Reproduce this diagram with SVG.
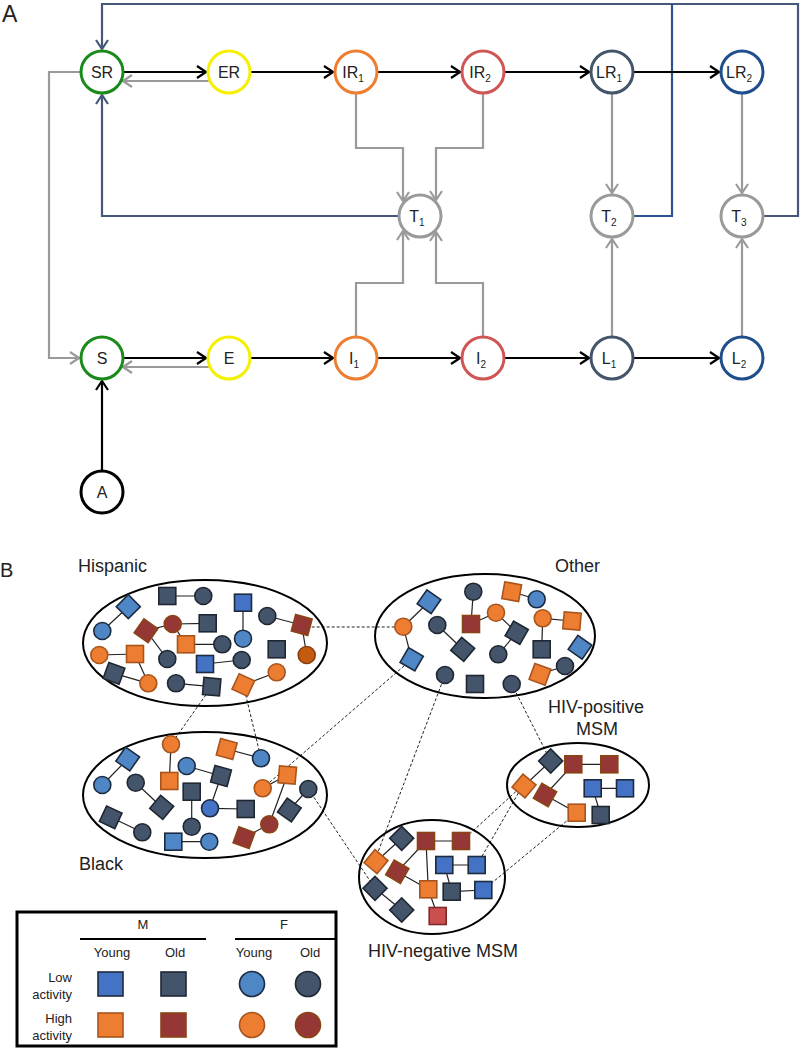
<svg xmlns="http://www.w3.org/2000/svg" width="800" height="1049" viewBox="0 0 800 1049">
<defs>
<style>
text{font-family:"Liberation Sans",Arial,sans-serif;fill:#222}
.lbl{font-size:16px;text-anchor:middle}
.sub{font-size:10px}
.nd{fill:#fff;stroke-width:3}
.blk{fill:none;stroke:#000;stroke-width:2.2}
.gry{fill:none;stroke:#9a9a9a;stroke-width:2.2}
.slt{fill:none;stroke:#46587a;stroke-width:2.2}
.blu{fill:none;stroke:#2a5595;stroke-width:2.2}
.ell{fill:none;stroke:#000;stroke-width:2}
.e{stroke:#222;stroke-width:1.2}
.d{stroke:#222;stroke-width:1;stroke-dasharray:3,2;fill:none}
.ym{fill:#4472c4;stroke:#1d2b40;stroke-width:1.6}
.yf{fill:#4f86c6;stroke:#1d2b40;stroke-width:1.6}
.om{fill:#44546a;stroke:#1f2733;stroke-width:1.6}
.yh{fill:#ed7d31;stroke:#a9541c;stroke-width:1.6}
.oh{fill:#953735;stroke:#8a4514;stroke-width:1.6}
.bo{fill:#c55a11;stroke:#8a3e0c;stroke-width:1.6}
.rs{fill:#c9504d;stroke:#7f2a28;stroke-width:1.6}
.cl{font-size:18px}
.lg{font-size:13px}
</style>
<marker id="ab" markerUnits="userSpaceOnUse" markerWidth="12" markerHeight="14" viewBox="0 0 12 14" refX="11" refY="7" orient="auto"><path d="M2,1 L11,7 L2,13" fill="none" stroke="#000" stroke-width="2.2"/></marker>
<marker id="ag" markerUnits="userSpaceOnUse" markerWidth="12" markerHeight="14" viewBox="0 0 12 14" refX="11" refY="7" orient="auto"><path d="M2,1 L11,7 L2,13" fill="none" stroke="#9a9a9a" stroke-width="2.2"/></marker>
<marker id="as" markerUnits="userSpaceOnUse" markerWidth="12" markerHeight="14" viewBox="0 0 12 14" refX="11" refY="7" orient="auto"><path d="M2,1 L11,7 L2,13" fill="none" stroke="#46587a" stroke-width="2.2"/></marker>
<rect id="sq" x="-8.5" y="-8.5" width="17" height="17"/>
</defs>
<rect width="800" height="1049" fill="#fff"/>

<text x="2" y="22" style="font-size:23px">A</text>
<text x="0" y="577" style="font-size:20px">B</text>

<!-- Part A connectors -->
<g id="connectorsA">
<path class="slt" d="M764,216 H798 V4 H102 V49" marker-end="url(#as)"/>
<path class="blu" d="M634,216 H672 V4"/>
<path class="slt" d="M398,216 H102 V95" marker-end="url(#as)"/>
<path class="blk" d="M124,72 H206" marker-end="url(#ab)"/>
<path class="blk" d="M251,72 H333" marker-end="url(#ab)"/>
<path class="blk" d="M378,72 H460" marker-end="url(#ab)"/>
<path class="blk" d="M505,72 H589" marker-end="url(#ab)"/>
<path class="blk" d="M634,72 H719" marker-end="url(#ab)"/>
<path class="blk" d="M124,358 H206" marker-end="url(#ab)"/>
<path class="blk" d="M251,358 H333" marker-end="url(#ab)"/>
<path class="blk" d="M378,358 H460" marker-end="url(#ab)"/>
<path class="blk" d="M505,358 H589" marker-end="url(#ab)"/>
<path class="blk" d="M634,358 H719" marker-end="url(#ab)"/>
<path class="blk" d="M102,470 V381" marker-end="url(#ab)"/>
<path class="gry" d="M209,81 H123" marker-end="url(#ag)"/>
<path class="gry" d="M209,367 H123" marker-end="url(#ag)"/>
<path class="gry" d="M80,72 H49 V358 H79" marker-end="url(#ag)"/>
<path class="gry" d="M356,94 V148 H403 V201" marker-end="url(#ag)"/>
<path class="gry" d="M483,94 V148 H436 V200" marker-end="url(#ag)"/>
<path class="gry" d="M356,337 V283 H403 V231" marker-end="url(#ag)"/>
<path class="gry" d="M483,337 V283 H436 V232" marker-end="url(#ag)"/>
<path class="gry" d="M612,94 V193" marker-end="url(#ag)"/>
<path class="gry" d="M612,337 V239" marker-end="url(#ag)"/>
<path class="gry" d="M742,94 V193" marker-end="url(#ag)"/>
<path class="gry" d="M742,337 V239" marker-end="url(#ag)"/>
</g>

<!-- Part A nodes -->
<g id="SR"><circle class="nd" cx="102" cy="72" r="21" stroke="#1a8a1a"/><text class="lbl" x="102" y="78">SR</text></g>
<g id="ER"><circle class="nd" cx="229" cy="72" r="21" stroke="#f5f000"/><text class="lbl" x="229" y="78">ER</text></g>
<g id="IR1"><circle class="nd" cx="356" cy="72" r="21" stroke="#ed7d31"/><text class="lbl" x="353" y="78">IR<tspan class="sub" dy="4">1</tspan></text></g>
<g id="IR2"><circle class="nd" cx="483" cy="72" r="21" stroke="#d05555"/><text class="lbl" x="480" y="78">IR<tspan class="sub" dy="4">2</tspan></text></g>
<g id="LR1"><circle class="nd" cx="612" cy="72" r="21" stroke="#44546a"/><text class="lbl" x="609" y="78">LR<tspan class="sub" dy="4">1</tspan></text></g>
<g id="LR2"><circle class="nd" cx="742" cy="72" r="21" stroke="#1f4e8c"/><text class="lbl" x="739" y="78">LR<tspan class="sub" dy="4">2</tspan></text></g>
<g id="T1"><circle class="nd" cx="420" cy="216" r="21" stroke="#9a9a9a"/><text class="lbl" x="417" y="222">T<tspan class="sub" dy="4">1</tspan></text></g>
<g id="T2"><circle class="nd" cx="612" cy="216" r="21" stroke="#9a9a9a"/><text class="lbl" x="609" y="222">T<tspan class="sub" dy="4">2</tspan></text></g>
<g id="T3"><circle class="nd" cx="742" cy="216" r="21" stroke="#9a9a9a"/><text class="lbl" x="739" y="222">T<tspan class="sub" dy="4">3</tspan></text></g>
<g id="S"><circle class="nd" cx="102" cy="358" r="21" stroke="#1a8a1a"/><text class="lbl" x="102" y="364">S</text></g>
<g id="E"><circle class="nd" cx="229" cy="358" r="21" stroke="#f5f000"/><text class="lbl" x="229" y="364">E</text></g>
<g id="I1"><circle class="nd" cx="356" cy="358" r="21" stroke="#ed7d31"/><text class="lbl" x="354" y="364">I<tspan class="sub" dy="4">1</tspan></text></g>
<g id="I2"><circle class="nd" cx="483" cy="358" r="21" stroke="#d05555"/><text class="lbl" x="481" y="364">I<tspan class="sub" dy="4">2</tspan></text></g>
<g id="L1"><circle class="nd" cx="612" cy="358" r="21" stroke="#44546a"/><text class="lbl" x="609" y="364">L<tspan class="sub" dy="4">1</tspan></text></g>
<g id="L2"><circle class="nd" cx="742" cy="358" r="21" stroke="#1f4e8c"/><text class="lbl" x="739" y="364">L<tspan class="sub" dy="4">2</tspan></text></g>
<g id="Anode"><circle class="nd" cx="102" cy="492" r="21" stroke="#000"/><text class="lbl" x="102" y="498">A</text></g>

<!-- Part B connectors -->
<g id="connectorsB">
<path class="d" d="M301.7,627 L403.3,627"/>
<path class="d" d="M211.7,686.7 L171,744.3"/>
<path class="d" d="M243.3,685 L261,758.3"/>
<path class="d" d="M411.7,659.3 L262.7,788.3"/>
<path class="d" d="M445,675 L378,852"/>
<path class="d" d="M511.7,684 L550.7,761"/>
<path class="d" d="M308.3,789 L375,888.3"/>
<path class="d" d="M462,841 L523,785"/>
<path class="d" d="M477,865 L523,785"/>
<path class="d" d="M483.3,890 L576.7,812.7"/>
<g class="e">
<line x1="128.3" y1="606.7" x2="102.3" y2="631"/>
<line x1="167.3" y1="596" x2="203.3" y2="596"/>
<line x1="243" y1="602.7" x2="243" y2="638.7"/>
<line x1="267.3" y1="616" x2="301.7" y2="625"/>
<line x1="301.7" y1="625" x2="306.7" y2="655"/>
<line x1="146" y1="630.7" x2="172.7" y2="624"/>
<line x1="172.7" y1="624" x2="207.7" y2="623.3"/>
<line x1="146" y1="630.7" x2="167.3" y2="659"/>
<line x1="172.7" y1="624" x2="186" y2="644.3"/>
<line x1="186" y1="644.3" x2="222.3" y2="644.3"/>
<line x1="99.3" y1="655" x2="135" y2="654"/>
<line x1="135" y1="654" x2="148.3" y2="683.3"/>
<line x1="114" y1="673.3" x2="148.3" y2="683.3"/>
<line x1="205" y1="664" x2="241.7" y2="660"/>
<line x1="176" y1="683.3" x2="211.7" y2="686.7"/>
<line x1="243.3" y1="685" x2="276.7" y2="672.3"/>
<line x1="473.3" y1="591.7" x2="471" y2="624"/>
<line x1="471" y1="624" x2="496" y2="612.7"/>
<line x1="511.7" y1="591.7" x2="536.7" y2="599.3"/>
<line x1="542.7" y1="618.3" x2="572" y2="621"/>
<line x1="496" y1="612.7" x2="516.7" y2="632.7"/>
<line x1="516.7" y1="632.7" x2="498.3" y2="654.3"/>
<line x1="541.7" y1="649.3" x2="542.7" y2="618.3"/>
<line x1="565" y1="666" x2="540" y2="674.3"/>
<line x1="429" y1="601.7" x2="403.3" y2="626.7"/>
<line x1="403.3" y1="626.7" x2="411.7" y2="659.3"/>
<line x1="437.3" y1="625" x2="462.7" y2="649.3"/>
<line x1="127.7" y1="759" x2="102.3" y2="785"/>
<line x1="135.7" y1="782.7" x2="161.7" y2="807.3"/>
<line x1="110.7" y1="817.3" x2="142.3" y2="832.3"/>
<line x1="171" y1="744.3" x2="169.3" y2="781"/>
<line x1="186.7" y1="766" x2="221" y2="776"/>
<line x1="226.7" y1="749" x2="261" y2="758.3"/>
<line x1="191.7" y1="791.7" x2="191.7" y2="826.7"/>
<line x1="173.3" y1="841.7" x2="209.3" y2="841.7"/>
<line x1="221" y1="776" x2="210" y2="808.3"/>
<line x1="210" y1="808.3" x2="245.7" y2="809"/>
<line x1="262.7" y1="788.3" x2="287.3" y2="775"/>
<line x1="287.3" y1="775" x2="269.3" y2="824.3"/>
<line x1="289.3" y1="810" x2="308.3" y2="789"/>
<line x1="269.3" y1="824.3" x2="244" y2="837.7"/>
<line x1="573.3" y1="764.3" x2="609.3" y2="764.3"/>
<line x1="524" y1="786" x2="550.7" y2="761"/>
<line x1="545" y1="795" x2="573.3" y2="764.3"/>
<line x1="545" y1="795" x2="576.7" y2="812.7"/>
<line x1="592.7" y1="788.3" x2="625" y2="788.3"/>
<line x1="592.7" y1="788.3" x2="600.7" y2="815"/>
<line x1="426" y1="841" x2="461" y2="841"/>
<line x1="376" y1="861.7" x2="401.7" y2="838.3"/>
<line x1="397.3" y1="871.7" x2="426" y2="841"/>
<line x1="426" y1="841" x2="428.3" y2="889.3"/>
<line x1="397.3" y1="871.7" x2="428.3" y2="889.3"/>
<line x1="444.3" y1="865" x2="476.7" y2="865"/>
<line x1="444.3" y1="865" x2="451.7" y2="891.7"/>
<line x1="451.7" y1="891.7" x2="483.3" y2="890"/>
<line x1="428.3" y1="889.3" x2="437.7" y2="916"/>
<line x1="375" y1="888.3" x2="401.7" y2="910"/>
</g>
</g>

<g id="hispanic">
<ellipse class="ell" cx="205" cy="643" rx="122" ry="63"/>
<text class="cl" x="78" y="572">Hispanic</text>
<use href="#sq" class="yf" transform="translate(128.3,606.7) rotate(45)"/>
<circle class="yf" cx="102.3" cy="631" r="8.5"/>
<use href="#sq" class="om" transform="translate(167.3,596)"/>
<circle class="om" cx="203.3" cy="596" r="8.5"/>
<use href="#sq" class="ym" transform="translate(243,602.7)"/>
<circle class="yf" cx="243" cy="638.7" r="8.5"/>
<circle class="om" cx="267.3" cy="616" r="8.5"/>
<use href="#sq" class="oh" transform="translate(301.7,625) rotate(15)"/>
<circle class="bo" cx="306.7" cy="655" r="8.5"/>
<use href="#sq" class="om" transform="translate(276.7,649.3)"/>
<use href="#sq" class="oh" transform="translate(146,630.7) rotate(35)"/>
<circle class="oh" cx="172.7" cy="624" r="8.5"/>
<use href="#sq" class="om" transform="translate(207.7,623.3)"/>
<use href="#sq" class="yh" transform="translate(186,644.3)"/>
<circle class="om" cx="222.3" cy="644.3" r="8.5"/>
<circle class="om" cx="167.3" cy="659" r="8.5"/>
<circle class="yh" cx="99.3" cy="655" r="8.5"/>
<use href="#sq" class="yh" transform="translate(135,654)"/>
<circle class="yh" cx="148.3" cy="683.3" r="8.5"/>
<use href="#sq" class="om" transform="translate(114,673.3) rotate(20)"/>
<use href="#sq" class="ym" transform="translate(205,664)"/>
<circle class="om" cx="241.7" cy="660" r="8.5"/>
<circle class="om" cx="176" cy="683.3" r="8.5"/>
<use href="#sq" class="om" transform="translate(211.7,686.7) rotate(5)"/>
<use href="#sq" class="yh" transform="translate(243.3,685) rotate(25)"/>
<circle class="yh" cx="276.7" cy="672.3" r="8.5"/>
</g>

<g id="other">
<ellipse class="ell" cx="485" cy="636" rx="110" ry="62"/>
<text class="cl" x="555" y="572">Other</text>
<circle class="om" cx="473.3" cy="591.7" r="8.5"/>
<use href="#sq" class="oh" transform="translate(471,624)"/>
<circle class="yh" cx="496" cy="612.7" r="8.5"/>
<use href="#sq" class="yh" transform="translate(511.7,591.7) rotate(10)"/>
<circle class="yf" cx="536.7" cy="599.3" r="8.5"/>
<circle class="yh" cx="542.7" cy="618.3" r="8.5"/>
<use href="#sq" class="yh" transform="translate(572,621) rotate(5)"/>
<use href="#sq" class="om" transform="translate(516.7,632.7) rotate(30)"/>
<circle class="om" cx="498.3" cy="654.3" r="8.5"/>
<use href="#sq" class="om" transform="translate(541.7,649.3)"/>
<use href="#sq" class="yf" transform="translate(580,647.3) rotate(35)"/>
<circle class="om" cx="565" cy="666" r="8.5"/>
<use href="#sq" class="yh" transform="translate(540,674.3) rotate(20)"/>
<use href="#sq" class="yf" transform="translate(429,601.7) rotate(35)"/>
<circle class="yh" cx="403.3" cy="626.7" r="8.5"/>
<use href="#sq" class="yf" transform="translate(411.7,659.3) rotate(30)"/>
<circle class="om" cx="437.3" cy="625" r="8.5"/>
<use href="#sq" class="om" transform="translate(462.7,649.3) rotate(40)"/>
<circle class="om" cx="445" cy="675" r="8.5"/>
<use href="#sq" class="om" transform="translate(475,684)"/>
<circle class="om" cx="511.7" cy="684" r="8.5"/>
</g>

<g id="black">
<ellipse class="ell" cx="205" cy="795" rx="122" ry="63"/>
<text class="cl" x="79" y="870">Black</text>
<use href="#sq" class="yf" transform="translate(127.7,759) rotate(35)"/>
<circle class="yf" cx="102.3" cy="785" r="8.5"/>
<circle class="om" cx="135.7" cy="782.7" r="8.5"/>
<use href="#sq" class="om" transform="translate(161.7,807.3) rotate(40)"/>
<use href="#sq" class="om" transform="translate(110.7,817.3) rotate(25)"/>
<circle class="om" cx="142.3" cy="832.3" r="8.5"/>
<circle class="yh" cx="171" cy="744.3" r="8.5"/>
<use href="#sq" class="yh" transform="translate(169.3,781)"/>
<circle class="yf" cx="186.7" cy="766" r="8.5"/>
<use href="#sq" class="om" transform="translate(221,776) rotate(15)"/>
<use href="#sq" class="yh" transform="translate(226.7,749) rotate(15)"/>
<circle class="yf" cx="261" cy="758.3" r="8.5"/>
<use href="#sq" class="om" transform="translate(191.7,791.7)"/>
<circle class="om" cx="191.7" cy="826.7" r="8.5"/>
<use href="#sq" class="yf" transform="translate(173.3,841.7)"/>
<circle class="yf" cx="209.3" cy="841.7" r="8.5"/>
<circle class="ym" cx="210" cy="808.3" r="8.5"/>
<use href="#sq" class="om" transform="translate(245.7,809)"/>
<circle class="yh" cx="262.7" cy="788.3" r="8.5"/>
<use href="#sq" class="yh" transform="translate(287.3,775) rotate(5)"/>
<circle class="oh" cx="269.3" cy="824.3" r="8.5"/>
<use href="#sq" class="om" transform="translate(289.3,810) rotate(35)"/>
<circle class="om" cx="308.3" cy="789" r="8.5"/>
<use href="#sq" class="oh" transform="translate(244,837.7) rotate(20)"/>
</g>

<g id="hivpos">
<ellipse class="ell" cx="578" cy="785" rx="71" ry="42"/>
<text class="cl" x="596" y="713" text-anchor="middle">HIV-positive</text>
<text class="cl" x="597" y="735" text-anchor="middle">MSM</text>
<use href="#sq" class="om" transform="translate(550.7,761) rotate(45)"/>
<use href="#sq" class="oh" transform="translate(573.3,764.3)"/>
<use href="#sq" class="oh" transform="translate(609.3,764.3)"/>
<use href="#sq" class="yh" transform="translate(524,786) rotate(40)"/>
<use href="#sq" class="oh" transform="translate(545,795) rotate(30)"/>
<use href="#sq" class="ym" transform="translate(592.7,788.3)"/>
<use href="#sq" class="ym" transform="translate(625,788.3)"/>
<use href="#sq" class="om" transform="translate(600.7,815)"/>
<use href="#sq" class="yh" transform="translate(576.7,812.7)"/>
</g>

<g id="hivneg">
<ellipse class="ell" cx="432" cy="877" rx="73" ry="57"/>
<text class="cl" x="368" y="957">HIV-negative MSM</text>
<use href="#sq" class="om" transform="translate(401.7,838.3) rotate(45)"/>
<use href="#sq" class="oh" transform="translate(426,841)"/>
<use href="#sq" class="oh" transform="translate(461,841)"/>
<use href="#sq" class="yh" transform="translate(376,861.7) rotate(40)"/>
<use href="#sq" class="oh" transform="translate(397.3,871.7) rotate(30)"/>
<use href="#sq" class="ym" transform="translate(444.3,865)"/>
<use href="#sq" class="ym" transform="translate(476.7,865)"/>
<use href="#sq" class="om" transform="translate(451.7,891.7)"/>
<use href="#sq" class="ym" transform="translate(483.3,890)"/>
<use href="#sq" class="yh" transform="translate(428.3,889.3)"/>
<use href="#sq" class="rs" transform="translate(437.7,916)"/>
<use href="#sq" class="om" transform="translate(375,888.3) rotate(45)"/>
<use href="#sq" class="om" transform="translate(401.7,910) rotate(45)"/>
</g>

<g id="legend">
<rect x="17" y="912" width="319" height="134" fill="none" stroke="#000" stroke-width="3"/>
<text class="lg" x="143" y="929" text-anchor="middle">M</text>
<text class="lg" x="284" y="929" text-anchor="middle">F</text>
<line x1="80" y1="939" x2="206" y2="939" stroke="#000" stroke-width="2"/>
<line x1="235" y1="939" x2="336" y2="939" stroke="#000" stroke-width="2"/>
<text class="lg" x="112" y="957" text-anchor="middle">Young</text>
<text class="lg" x="175" y="957" text-anchor="middle">Old</text>
<text class="lg" x="254" y="957" text-anchor="middle">Young</text>
<text class="lg" x="310" y="957" text-anchor="middle">Old</text>
<text class="lg" x="72" y="982" text-anchor="end">Low</text>
<text class="lg" x="72" y="999" text-anchor="end">activity</text>
<text class="lg" x="72" y="1023" text-anchor="end">High</text>
<text class="lg" x="72" y="1040" text-anchor="end">activity</text>
<rect class="ym" x="98" y="972" width="25" height="24"/>
<rect class="om" x="161" y="972" width="25" height="24"/>
<circle class="yf" cx="252" cy="984" r="12.5"/>
<circle class="om" cx="308" cy="984" r="12.5"/>
<rect class="yh" x="98" y="1013" width="25" height="24"/>
<rect class="oh" x="161" y="1013" width="25" height="24"/>
<circle class="yh" cx="252" cy="1025" r="12.5"/>
<circle class="oh" cx="308" cy="1025" r="12.5"/>
</g>
</svg>
